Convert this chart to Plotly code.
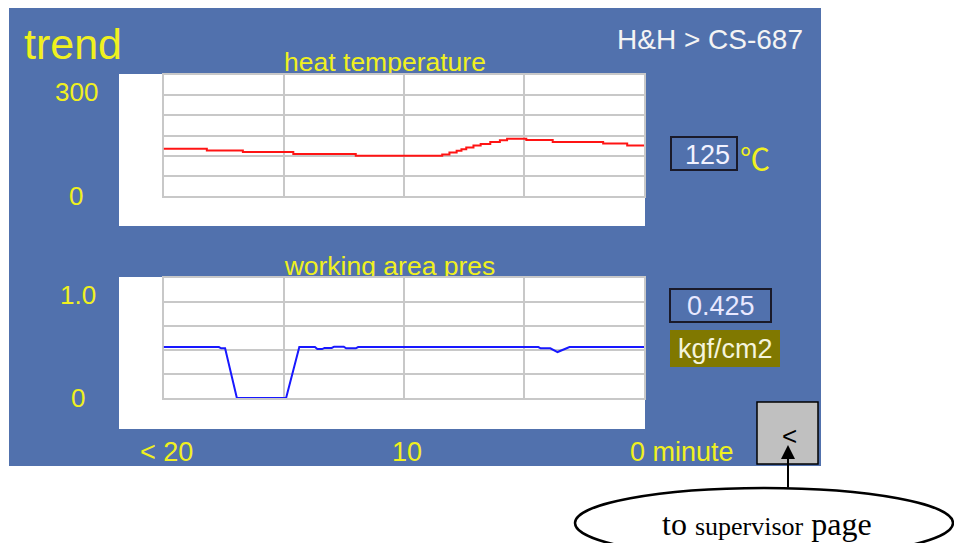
import plotly.graph_objects as go
from plotly.subplots import make_subplots

# heat temperature trend (minutes before now, deg C)
temp_minutes = [-20, -18.2, -16.7, -14.6, -12.0, -8.4, -8.1, -7.8, -7.6, -7.4, -7.1,
                -6.8, -6.4, -6.0, -5.7, -4.9, -3.8, -1.7, -0.7, 0]
temp_values = [117, 113, 109, 104, 100, 103, 108, 112, 116, 120, 125,
               129, 134, 138, 142, 139, 134, 130, 125, 125]

# working area pressure trend (minutes before now, kgf/cm2)
pres_minutes = [-20, -17.7, -17.6, -17.44, -16.95, -14.9, -14.35, -13.7, -13.6, -13.4,
                -13.3, -13.0, -12.9, -12.5, -12.4, -12.0, -11.9, -4.4, -4.3, -3.9,
                -3.6, -3.1, 0]
pres_values = [0.425, 0.425, 0.414, 0.414, 0.0, 0.0, 0.425, 0.425, 0.408, 0.408,
               0.417, 0.417, 0.428, 0.428, 0.414, 0.414, 0.425, 0.425, 0.414, 0.414,
               0.383, 0.425, 0.425]

temp_now = "125"
pres_now = "0.425"
temp_unit = "℃"
pres_unit = "kgf/cm2"

temp_tick_vals = [300, 0]
temp_tick_text = ["300", "0"]
pres_tick_vals = [1.0, 0]
pres_tick_text = ["1.0", "0"]
minute_tick_vals = [-20, -10, 0]
minute_tick_text = ["< 20", "10", "0 minute"]

W, H = 954, 543
YELLOW = "#F0F020"
PANEL = "#5171AD"
GRID = "#C8C8C8"
UI_FONT = "Liberation Sans"


def fx(px):
    return px / W


def fy(py):
    return 1 - py / H


fig = make_subplots(rows=2, cols=1)
# the temperature trace is logged in steps
fig.add_trace(go.Scatter(x=temp_minutes, y=temp_values, mode="lines",
                         line=dict(color="#FF1414", width=2, shape="hv")), row=1, col=1)
fig.add_trace(go.Scatter(x=pres_minutes, y=pres_values, mode="lines",
                         line=dict(color="#1818FF", width=2)), row=2, col=1)

axis_style = dict(showticklabels=False, ticks="", showgrid=True, gridcolor=GRID, gridwidth=2,
                  showline=True, linecolor=GRID, linewidth=2, mirror=True,
                  zeroline=False, layer="below traces", fixedrange=True)

fig.update_xaxes(axis_style, range=[-20, 0], tick0=0, dtick=5, domain=[fx(163.6), fx(644)])
fig.update_yaxes(axis_style, range=[0, 300], tick0=0, dtick=50, domain=[fy(196), fy(75)], row=1, col=1)
fig.update_yaxes(axis_style, range=[0, 1], tick0=0, dtick=0.2, domain=[fy(398), fy(278)], row=2, col=1)


def rect(x0, y0, x1, y1, **kw):
    return dict(type="rect", xref="paper", yref="paper",
                x0=fx(x0), x1=fx(x1), y0=fy(y1), y1=fy(y0), **kw)


no_line = dict(width=0)
shapes = [
    rect(9, 8, 821, 466, fillcolor=PANEL, line=no_line, layer="below"),
    # headings sit behind the white boxes, so their descenders get cut like the screen
    rect(240, 44, 530, 74, fillcolor="rgba(0,0,0,0)", line=no_line, layer="below",
         label=dict(text="heat temperature", textposition="middle center",
                    font=dict(family=UI_FONT, size=26.5, color=YELLOW))),
    rect(245, 248, 535, 278, fillcolor="rgba(0,0,0,0)", line=no_line, layer="below",
         label=dict(text="working area pres", textposition="middle center",
                    font=dict(family=UI_FONT, size=26.5, color=YELLOW))),
    rect(119, 74, 645, 226, fillcolor="white", line=no_line, layer="below"),
    rect(119, 277, 645, 429, fillcolor="white", line=no_line, layer="below"),
    rect(671, 137, 737, 170, line=dict(color="#1A1A2A", width=2)),
    rect(670, 289, 771, 322, line=dict(color="#1A1A2A", width=2)),
    rect(670, 330, 780, 367, fillcolor="#807800", line=no_line),
    rect(757, 402, 818, 464, fillcolor="#C0C0C0", line=dict(color="black", width=1.5)),
    dict(type="circle", xref="paper", yref="paper", x0=fx(575), x1=fx(953), y0=fy(558), y1=fy(488),
         line=dict(color="black", width=2.5)),
]

annotations = []


def text(x, y, s, size, color, family=UI_FONT, **kw):
    annotations.append(dict(x=fx(x), y=fy(y), xref="paper", yref="paper", text=s, showarrow=False,
                            xanchor="center", yanchor="middle",
                            font=dict(family=family, size=size, color=color), **kw))


text(73, 44, "trend", 43, YELLOW)
text(710, 39, "H&H > CS-687", 28, "#F4F4F4")
text(707, 155, temp_now, 27, "#F2F2FF")
text(755, 157, temp_unit, 30, YELLOW, family="Noto Sans CJK SC")
text(721, 306, pres_now, 27, "#E8E8FF")
text(725, 349, pres_unit, 27, "#F4F4DC")
text(789, 436, "<", 26, "black")
text(767, 524, "to <span style='font-size:26px'>supervisor</span> page", 32, "black",
     family="Liberation Serif")

# y tick labels
for val, lab in zip(temp_tick_vals, temp_tick_text):
    annotations.append(dict(x=fx(76), y=val, xref="paper", yref="y", text=lab, showarrow=False,
                            xanchor="center", yanchor="top" if val == max(temp_tick_vals) else "middle",
                            font=dict(family=UI_FONT, size=26, color=YELLOW)))
for val, lab in zip(pres_tick_vals, pres_tick_text):
    annotations.append(dict(x=fx(78), y=val, xref="paper", yref="y2", text=lab, showarrow=False,
                            xanchor="center", yanchor="top" if val == max(pres_tick_vals) else "middle",
                            font=dict(family=UI_FONT, size=26, color=YELLOW)))

# minute labels under the lower chart
for val, lab in zip(minute_tick_vals, minute_tick_text):
    last = val == minute_tick_vals[-1]
    annotations.append(dict(x=val, y=fy(452), xref="x2", yref="paper", text=lab, showarrow=False,
                            xanchor="left" if last else "center", yanchor="middle",
                            xshift=-16 if last else 3,
                            font=dict(family=UI_FONT, size=27, color=YELLOW)))

# arrow from the note up to the back button
annotations.append(dict(x=fx(788), y=fy(445), xref="paper", yref="paper", ax=0, ay=44,
                        text="", showarrow=True, arrowhead=2, arrowsize=1.4, arrowwidth=2,
                        arrowcolor="black"))

fig.update_layout(width=W, height=H, margin=dict(l=0, r=0, t=0, b=0),
                  paper_bgcolor="white", plot_bgcolor="white", showlegend=False,
                  shapes=shapes, annotations=annotations)

fig.write_html("out.html", config={"displayModeBar": False},
               post_script="document.body.style.margin='0';")
